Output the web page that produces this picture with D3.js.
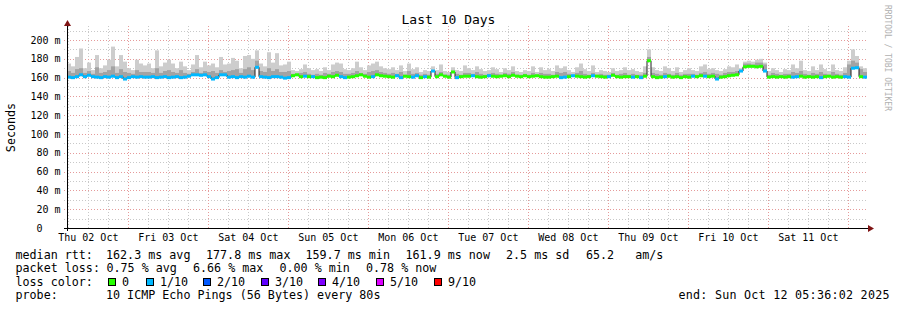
<!DOCTYPE html>
<html>
<head>
<meta charset="utf-8">
<script src="https://cdn.jsdelivr.net/npm/d3@7"></script>
<style>
  body { margin: 0; background: #fff; }
  svg { display: block; }
  text { font-family: "DejaVu Sans Mono", monospace; fill: #000; white-space: pre; }
</style>
</head>
<body>
<svg id="chart" width="897" height="310"></svg>
<script>
// chart texts
const title = "Last 10 Days";
const yLabel = "Seconds";
const endTime = "2025-10-12T05:36:02Z";
const spanDays = 10;
const yTicks = [0, 20, 40, 60, 80, 100, 120, 140, 160, 180, 200];

// loss colours (pings lost out of 10)
const lossSteps = [0, 1, 2, 3, 4, 5, 9];
const lossLabels = ["0", "1/10", "2/10", "3/10", "4/10", "5/10", "9/10"];
const lossColors = ["#26ff00", "#00b8ff", "#0059ff", "#5e00ff", "#7e00ff", "#dd00ff", "#ff0000"];

// legend values
const medianStats = ["162.3 ms avg", "177.8 ms max", "159.7 ms min", "161.9 ms now", "2.5 ms sd", "65.2   am/s"];
const lossStats = ["0.75 % avg", "6.66 % max", "0.00 % min", "0.78 % now"];
const probeText = "10 ICMP Echo Pings (56 Bytes) every 80s";
const endText = "end: Sun Oct 12 05:36:02 2025";

// median rtt in ms, one value per 1.2 h step (200 steps)
const medianRtt = [
  160.5,160,161,163,161,162.5,161,160.5,160,161,160.5,161.5,160,161,158.5,160,161,160.5,161,160.5,
  160.5,161,160,160.5,161,160,160.5,161,160,160.5,161.5,163,163,162.5,163,161,158.5,160,163,163,
  160.5,161,160,161,160.5,161.5,160.5,171,161,160.5,160,161,161,160.5,159.5,160,162,163,161,161.5,
  161,161,160,160.5,160,161.5,161,162.5,161,160,160.5,161,162,163,161.5,160.5,161,163,162,161.5,
  161,160.5,162,160,161.5,161,160.5,162,160,161,160.5,167,161,163,161.5,160.5,166,160,161,161.5,
  161.5,162,161,160.5,161,162,161.5,161,161.5,162,161,162.5,161.5,161,162,161,161.5,162,161,160.5,
  160.5,161,161.5,160,160.5,161,162,161.5,161,160.5,161,162,161.5,161,160.5,161,162.5,161,160.5,161,
  161,160.5,161,160,161.5,178,161,160,160.5,161,161.5,160.5,161,160,161,160.5,161.5,161,162,161.5,
  161,161.5,158.5,160.5,161,162,162.5,163,167,171.5,172,172,171.5,172,167,160.5,161,160.5,161,160.5,
  161,160.5,161,161.5,160.5,161,160.5,161,160,161,161.5,160.5,161,160.5,161,160.5,170,170.5,161,160.5
];

// highest ping of each step (light smoke top), ms
const smokeMax = [
  175,172,182,191,170,176,168,184,170,173,179,193,172,184,177,170,168,179,175,173,
  175,170,189,172,176,179,175,170,177,172,168,174,184,171,177,173,175,171,182,174,
  175,181,178,170,183,184,180,189,175,172,187,176,186,173,174,177,168,167,169,174,
  170,168,169,167,171,168,174,176,175,169,168,170,177,171,168,173,175,177,172,170,
  169,171,168,173,167,175,169,171,166,168,167,172,168,174,167,166,171,168,167,173,
  170,168,172,169,167,168,171,169,166,170,168,172,167,166,168,167,172,166,171,168,
  169,167,173,170,172,168,166,171,175,169,167,173,166,168,167,166,170,167,168,171,
  168,169,167,166,172,190,171,168,167,172,170,167,171,166,168,170,168,167,172,174,
  169,170,168,167,169,172,171,174,170,177,178,177,179,180,176,167,170,168,166,169,
  168,174,170,178,168,167,172,168,174,169,167,174,168,167,171,178,190,183,172,170
];

// denser smoke top (dark grey), ms
const smokeDense = [
  167,165,169,170,165,167,164,171,165,166,168,172,165,169,166,165,164,168,166,166,
  166,165,170,165,167,168,166,165,168,165,164,166,169,165,167,166,167,165,168,166,
  167,168,169,165,169,171,168,178,167,166,170,167,169,166,166,167,164,164,165,166,
  164,163,164,163,165,164,166,167,166,164,164,165,167,165,164,166,167,168,166,165,
  164,165,164,166,163,167,164,165,163,164,163,167,164,166,163,163,166,164,163,165,
  165,164,166,164,163,164,165,164,163,165,164,166,163,163,164,163,165,163,165,164,
  164,163,166,165,166,164,163,165,167,164,163,165,163,164,163,163,165,163,164,165,
  163,164,163,163,165,182,165,164,163,165,164,163,165,163,164,164,164,163,165,166,
  164,165,164,163,165,166,166,167,168,175,175,174,176,176,174,163,165,164,163,164,
  164,166,165,167,164,163,165,164,166,164,163,166,164,163,165,174,178,176,169,166
];

// pings lost out of 10 per step
const lostPings = [
  1,1,1,1,1,1,1,1,1,1,1,1,1,1,1,1,1,1,1,1,
  1,1,1,1,1,1,1,1,1,1,1,1,1,1,1,1,1,1,1,1,
  1,1,1,1,1,1,1,1,1,1,1,1,1,1,1,1,0,0,0,1,
  0,1,0,0,0,0,0,0,1,1,0,0,0,0,0,0,1,0,0,0,
  0,0,1,1,0,0,1,1,0,1,0,1,0,0,0,0,0,1,0,0,
  0,1,0,0,0,1,0,0,0,0,0,0,0,0,0,0,0,0,0,0,
  0,0,0,1,1,0,1,0,0,0,0,1,0,0,0,1,0,0,0,0,
  0,1,0,1,0,0,0,0,0,1,0,0,0,0,0,0,1,0,0,1,
  0,0,1,0,0,0,0,0,1,0,0,0,0,0,1,0,0,0,0,0,
  0,1,1,0,0,0,0,0,1,0,0,0,0,0,1,1,1,1,0,1
];

const svg = d3.select("#chart");

const end = new Date(endTime);
const start = d3.utcDay.offset(end, -spanDays);
const stepMs = (end - start) / medianRtt.length;

const data = medianRtt.map((m, i) => ({
  t0: new Date(+start + i * stepMs),
  t1: new Date(+start + (i + 1) * stepMs),
  med: m,
  hi: smokeMax[i],
  dense: smokeDense[i],
  loss: lostPings[i]
}));

const x = d3.scaleUtc().domain([start, end]).range([67, 867]);
const y = d3.scaleLinear().domain([0, 212.8]).range([228, 28]);
const lossColor = d3.scaleOrdinal(lossSteps, lossColors);
const sw = 1.6; // half height of the median band, ms

// grid
const grid = svg.append("g").attr("fill", "none").attr("stroke-dasharray", "1,2");
const minorY = d3.range(10, 211, 10).filter(v => v % 20 !== 0);
const majorY = yTicks.filter(v => v > 0);
const minorX = d3.utcHour.every(6).range(start, end).filter(d => d.getUTCHours() !== 0);
const majorX = d3.utcDay.range(start, end);

grid.selectAll(".gy").data(minorY).join("line")
  .attr("x1", 64).attr("x2", 868)
  .attr("y1", d => Math.round(y(d)) + 0.5).attr("y2", d => Math.round(y(d)) + 0.5)
  .attr("stroke", "#c8c8c8");
grid.selectAll(".gx").data(minorX).join("line")
  .attr("x1", d => Math.round(x(d)) + 0.5).attr("x2", d => Math.round(x(d)) + 0.5)
  .attr("y1", 228).attr("y2", 26)
  .attr("stroke", "#c8c8c8");
grid.selectAll(".my").data(majorY).join("line")
  .attr("x1", 64).attr("x2", 868)
  .attr("y1", d => Math.round(y(d)) + 0.5).attr("y2", d => Math.round(y(d)) + 0.5)
  .attr("stroke", "#e59a9a");
grid.selectAll(".mx").data(majorX).join("line")
  .attr("x1", d => Math.round(x(d)) + 0.5).attr("x2", d => Math.round(x(d)) + 0.5)
  .attr("y1", 228).attr("y2", 26)
  .attr("stroke", "#e59a9a");

// smoke
svg.append("g").selectAll("rect").data(data).join("rect")
  .attr("x", d => x(d.t0)).attr("width", d => x(d.t1) - x(d.t0))
  .attr("y", d => y(d.hi)).attr("height", d => y(d.med) - y(d.hi))
  .attr("fill", "#cdcdcd");
svg.append("g").selectAll("rect").data(data).join("rect")
  .attr("x", d => x(d.t0)).attr("width", d => x(d.t1) - x(d.t0))
  .attr("y", d => y(d.dense)).attr("height", d => y(d.med) - y(d.dense))
  .attr("fill", "#a3a3a3");

// median line
const stepData = data.concat([{ t0: end, med: data[data.length - 1].med }]);
svg.append("path")
  .datum(stepData)
  .attr("fill", "none")
  .attr("stroke", "#202020")
  .attr("stroke-width", 1)
  .attr("d", d3.line().curve(d3.curveStepAfter).x(d => x(d.t0)).y(d => y(d.med)));

// median band coloured by loss
svg.append("g").selectAll("rect").data(data).join("rect")
  .attr("x", d => x(d.t0)).attr("width", d => x(d.t1) - x(d.t0))
  .attr("y", d => y(d.med + sw)).attr("height", d => y(d.med - sw) - y(d.med + sw))
  .attr("fill", d => lossColor(d.loss));

// axes
svg.append("line").attr("x1", 64).attr("x2", 869).attr("y1", 228.5).attr("y2", 228.5).attr("stroke", "#000");
svg.append("line").attr("x1", 67.5).attr("x2", 67.5).attr("y1", 231).attr("y2", 24).attr("stroke", "#000");
svg.append("path").attr("d", "M64,26L71,26L67.5,20Z").attr("fill", "#7f1414");
svg.append("path").attr("d", "M868,225L868,232L874,228.5Z").attr("fill", "#7f1414");

// y tick labels
svg.append("g").selectAll("text").data(yTicks).join("text")
  .attr("x", 60.5)
  .attr("y", d => y(d))
  .attr("dy", "0.35em")
  .attr("text-anchor", "end")
  .attr("font-size", 10)
  .text(d => d === 0 ? "0   " : d + " m");

// x labels at noon of each day
const noons = majorX.map(d => d3.utcHour.offset(d, -12));
svg.append("g").selectAll("text").data(noons).join("text")
  .attr("x", d => x(d))
  .attr("y", 241)
  .attr("text-anchor", "middle")
  .attr("font-size", 10)
  .text(d3.utcFormat("%a %d %b"));

// title, y label, watermark
svg.append("text").attr("x", 448.5).attr("y", 24).attr("text-anchor", "middle")
  .attr("font-size", 13).text(title);
svg.append("text").attr("transform", "translate(14.5,127.5) rotate(-90)").attr("text-anchor", "middle")
  .attr("font-size", 11.7).text(yLabel);
svg.append("text").attr("transform", "translate(885,5) rotate(90)")
  .attr("font-size", 8).style("fill", "#b0b0b0").text("RRDTOOL / TOBI OETIKER");

// legend
const leg = svg.append("g").attr("font-size", 11.7);
leg.append("text").attr("x", 15.5).attr("y", 258.5).text("median rtt:");
leg.selectAll(".ms").data(medianStats).join("text")
  .attr("x", (d, i) => [106, 206, 305.5, 405.5, 506, 586][i])
  .attr("y", 258.5).text(d => d);

leg.append("text").attr("x", 15.5).attr("y", 272).text("packet loss:");
leg.selectAll(".ls").data(lossStats).join("text")
  .attr("x", (d, i) => [106.5, 193, 279.5, 366][i])
  .attr("y", 272).text(d => d);

leg.append("text").attr("x", 15.5).attr("y", 285.5).text("loss color:");
const boxX = [108, 146, 203, 261, 318, 376, 434];
leg.selectAll("rect").data(lossLabels).join("rect")
  .attr("x", (d, i) => boxX[i] + 0.5).attr("y", 278.5)
  .attr("width", 7).attr("height", 7)
  .attr("fill", (d, i) => lossColors[i])
  .attr("stroke", "#000");
leg.selectAll(".lc").data(lossLabels).join("text")
  .attr("x", (d, i) => boxX[i] + 14)
  .attr("y", 285.5).text(d => d);

leg.append("text").attr("x", 15.5).attr("y", 299).text("probe:");
leg.append("text").attr("x", 106).attr("y", 299).text(probeText);
leg.append("text").attr("x", 889.5).attr("y", 299).attr("text-anchor", "end")
  .attr("textLength", 211).attr("lengthAdjust", "spacing").text(endText);
</script>
</body>
</html>
